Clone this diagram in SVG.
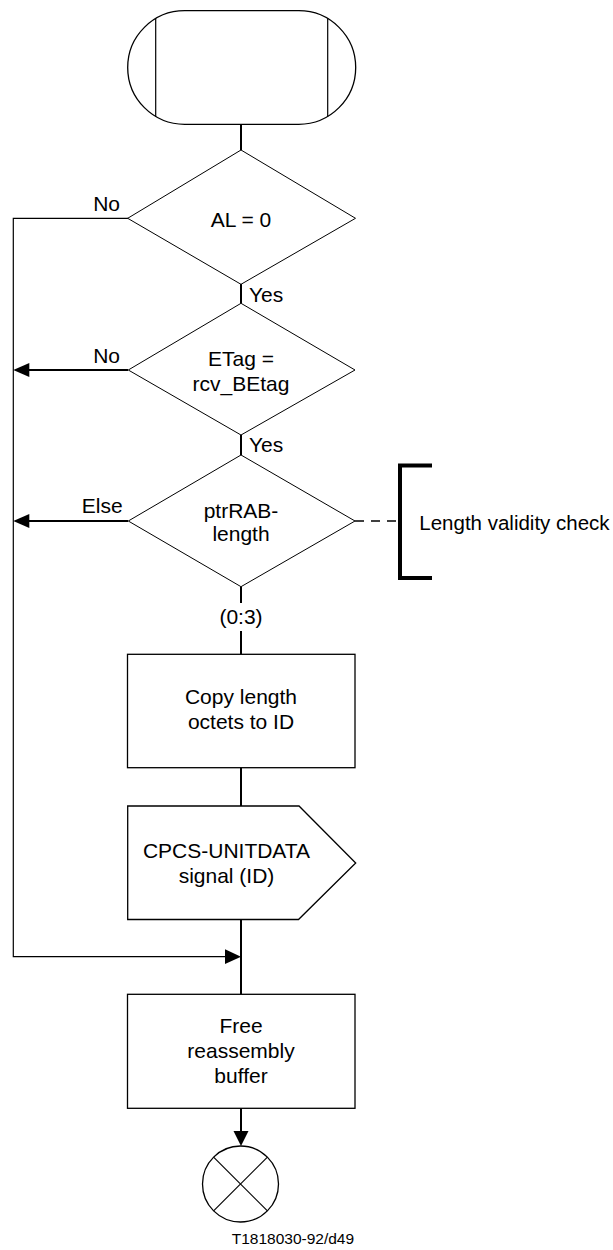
<svg xmlns="http://www.w3.org/2000/svg" width="613" height="1250" viewBox="0 0 613 1250">
<style>
text{font-family:"Liberation Sans",Arial,sans-serif;font-size:21px;fill:#000}
.c{text-anchor:middle}
.e{text-anchor:end}
.sh{fill:#fff;stroke:#000;stroke-width:1.3}
.dm{fill:#fff;stroke:#000;stroke-width:1}
.thin{fill:none;stroke:#000;stroke-width:1.2}
.thick{fill:none;stroke:#000;stroke-width:2}
.ah{fill:#000;stroke:none}
</style>
<rect width="613" height="1250" fill="#fff"/>
<g id="connectors">
<line class="thick" x1="241" y1="124" x2="241" y2="150"/>
<line class="thick" x1="241" y1="284" x2="241" y2="303"/>
<line class="thick" x1="241" y1="435" x2="241" y2="455"/>
<line class="thick" x1="241" y1="587" x2="241" y2="603"/>
<line class="thick" x1="241" y1="631" x2="241" y2="654"/>
<line class="thick" x1="241" y1="768" x2="241" y2="806"/>
<line class="thick" x1="241" y1="919" x2="241" y2="994"/>
<line class="thick" x1="241" y1="1108" x2="241" y2="1132"/>
<polygon class="ah" points="233.5,1131 248.5,1131 241,1146"/>
<polyline class="thin" points="128,218.3 13.3,218.3 13.3,956.7 226,956.7"/>
<polygon class="ah" points="225,949.3 241,956.7 225,964"/>
<line class="thick" x1="128" y1="370" x2="29" y2="370"/>
<polygon class="ah" points="29.3,363 13.3,370 29.3,377"/>
<line class="thick" x1="128" y1="521" x2="29" y2="521"/>
<polygon class="ah" points="29.3,514 13.3,521 29.3,528"/>
<line x1="355" y1="521" x2="400" y2="521" stroke="#000" stroke-width="1.5" stroke-dasharray="9,7"/>
<polyline points="432,465.5 400,465.5 400,578 432,578" fill="none" stroke="#000" stroke-width="4"/>
<text x="120" y="211" class="e">No</text>
<text x="249" y="301.7">Yes</text>
<text x="120" y="362.7" class="e">No</text>
<text x="249" y="451.7">Yes</text>
<text x="122.7" y="512.7" class="e">Else</text>
<text x="241" y="624" class="c">(0:3)</text>
<text x="419.3" y="530" style="font-size:20.5px">Length validity check</text>
</g>
<g id="start">
<rect class="sh" x="127.7" y="10.7" width="228" height="113.6" rx="57" ry="56.8"/>
<line class="thin" x1="155.7" y1="18.3" x2="155.7" y2="116.7"/>
<line class="thin" x1="327.7" y1="18.3" x2="327.7" y2="116.7"/>
</g>
<g id="dec1">
<polygon class="dm" points="241,150 355.5,218.3 241,284.3 127.7,218.3"/>
<text x="241" y="226.7" class="c">AL = 0</text>
</g>
<g id="dec2">
<polygon class="dm" points="241,303.3 355,370 241,435 128.3,370"/>
<text x="241" y="365.7" class="c">ETag =</text>
<text x="241" y="390.7" class="c">rcv_BEtag</text>
</g>
<g id="dec3">
<polygon class="dm" points="241,455 355,521 241,586.7 128.3,521"/>
<text x="241" y="518.3" class="c">ptrRAB-</text>
<text x="241" y="540.5" class="c">length</text>
</g>
<g id="copy">
<rect class="sh" x="127.5" y="654.3" width="227.5" height="113.4"/>
<text x="241" y="704" class="c">Copy length</text>
<text x="241" y="729" class="c">octets to ID</text>
</g>
<g id="signal">
<polygon class="dm" points="127.7,806 299,806 355.7,863 298.5,919.5 127.7,919.5" style="stroke-width:1.3"/>
<text x="226.5" y="858.3" class="c">CPCS-UNITDATA</text>
<text x="226.5" y="883.3" class="c">signal (ID)</text>
</g>
<g id="free">
<rect class="sh" x="127.5" y="994.3" width="227.5" height="114"/>
<text x="241" y="1033.3" class="c">Free</text>
<text x="241" y="1058.3" class="c">reassembly</text>
<text x="241" y="1083.3" class="c">buffer</text>
</g>
<g id="stop">
<circle class="sh" cx="240.5" cy="1184" r="38"/>
<line class="thin" x1="213.6" y1="1157.1" x2="267.4" y2="1210.9"/>
<line class="thin" x1="267.4" y1="1157.1" x2="213.6" y2="1210.9"/>
</g>
<text x="231.7" y="1244" style="font-size:15.5px">T1818030-92/d49</text>
</svg>
